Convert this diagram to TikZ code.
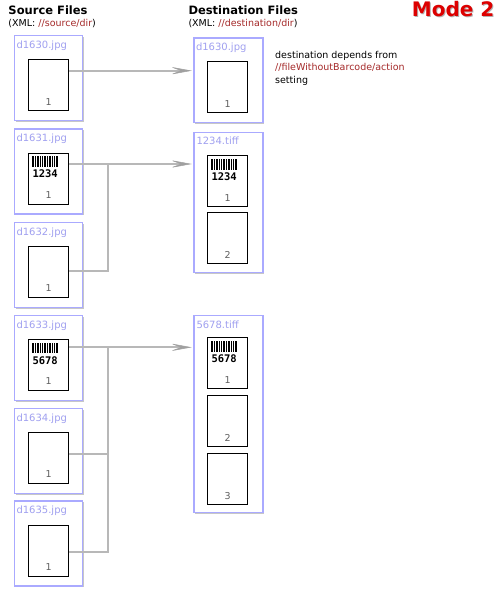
\documentclass[tikz,border=0pt]{standalone}
\usepackage{fontspec}
\setmainfont{DejaVu Sans}
\newfontfamily\monob{DejaVu Sans Mono}
\usetikzlibrary{shadows,arrows.meta,calc}
\definecolor{boxblue}{HTML}{AAAAFF}
\definecolor{lblblue}{HTML}{A0A0F0}
\definecolor{xmlred}{HTML}{A52A2A}
\definecolor{conn}{HTML}{B8B8B8}
\definecolor{tipgray}{HTML}{A0A0A0}
\definecolor{modered}{HTML}{DD0000}
\definecolor{numgray}{HTML}{606060}
\tikzset{
  filebox/.style={draw=boxblue, line width=1.2pt, fill=white, anchor=north west, inner sep=0pt,
    drop shadow={shadow xshift=1.5pt, shadow yshift=-1.5pt, fill=black, opacity=0.22}},
  srcbox/.style={filebox, minimum width=68pt, minimum height=85pt},
  dstbox/.style={filebox, minimum width=69pt},
  flabel/.style={anchor=base west, inner sep=0pt, text=lblblue, font=\fontsize{10}{12}\selectfont},
  pagebox/.style={draw=black, line width=0.8pt, fill=white, anchor=north west, inner sep=0pt,
    minimum width=40pt, minimum height=51pt},
  pnum/.style={anchor=base, inner sep=0pt, text=numgray, font=\fontsize{9.5}{11}\selectfont},
  bctext/.style={anchor=base west, inner sep=0pt, font=\monob\bfseries\fontsize{10.5}{12}\selectfont},
  connline/.style={draw=conn, line width=2pt},
  connarrow/.style={connline, -{Stealth[length=22pt,width=8pt,inset=11pt,line width=0.5pt,color=tipgray]}, shorten >=1.5pt},
  head/.style={anchor=base west, inner sep=0pt, font=\bfseries\fontsize{11.5}{13}\selectfont},
  sub/.style={anchor=base west, inner sep=0pt, font=\fontsize{9.5}{11}\selectfont},
}
\newcommand\pg[4]{%
  \node[pagebox] (#1) at (#2,#3) {};
  \node[pnum] (#1n) at ($(#1.south)+(0,-6)$) {#4};}
\newcommand\bcode[2]{%
  \begin{scope}[shift={(#1.north west)}]
    \foreach \a/\w in {0/2,3/1,5/2,8/1,10/1,12/2,15/1,17/2,20/1,22/1,24/2}
      \fill[black] (4+\a,3.7) rectangle (4+\a+\w,14.4);
  \end{scope}
  \node[bctext] (#1bc) at ($(#1.north west)+(4,25)$) {#2};}
\begin{document}
\begin{tikzpicture}[x=1pt,y=-1pt]
\useasboundingbox[fill=white] (0,0) rectangle (500,595);

% headers
\node[head] (hsrc) at (8.3,14) {Source Files};
\node[sub] (hsrcx) at (8.3,26.5) {(XML: \textcolor{xmlred}{//source/dir})};
\node[head] (hdst) at (188.3,14) {Destination Files};
\node[sub] (hdstx) at (188.3,26.5) {(XML: \textcolor{xmlred}{//destination/dir})};
\node[anchor=base west, inner sep=0pt, text=black!60, opacity=0.5, font=\bfseries\fontsize{20}{22}\selectfont] (modesh) at (412.7,17.5) {Mode 2};
\node[anchor=base west, inner sep=0pt, text=modered, font=\bfseries\fontsize{20}{22}\selectfont] (mode) at (411.7,16.7) {Mode 2};

% source boxes
\foreach \i/\t in {1/35,2/128.3,3/221.7,4/314.7,5/407.7,6/500.3}{
  \node[srcbox] (s\i) at (14,\t) {};
}
\node[flabel] (s1l) at (16.3,48.3) {d1630.jpg};
\node[flabel] (s2l) at (16.3,141.6) {d1631.jpg};
\node[flabel] (s3l) at (16.3,235.0) {d1632.jpg};
\node[flabel] (s4l) at (16.3,328.0) {d1633.jpg};
\node[flabel] (s5l) at (16.3,421.0) {d1634.jpg};
\node[flabel] (s6l) at (16.3,513.6) {d1635.jpg};
\pg{s1p}{28.3}{59.3}{1}
\pg{s2p}{28.3}{152.6}{1}
\pg{s3p}{28.3}{246.0}{1}
\pg{s4p}{28.3}{339.0}{1}
\pg{s5p}{28.3}{432.0}{1}
\pg{s6p}{28.3}{524.6}{1}
\bcode{s2p}{1234}
\bcode{s4p}{5678}

% destination boxes
\node[dstbox, minimum height=84.4pt] (d1) at (193.3,37.3) {};
\node[dstbox, minimum height=140pt] (d2) at (193.3,131.7) {};
\node[dstbox, minimum height=196.7pt] (d3) at (193.3,315) {};
\node[flabel] (d1l) at (195.8,50.3) {d1630.jpg};
\node[flabel] (d2l) at (196.3,144.2) {1234.tiff};
\node[flabel] (d3l) at (196.3,328) {5678.tiff};
\pg{d1p}{207.3}{61.3}{1}
\pg{d2p1}{207.3}{155.3}{1}
\pg{d2p2}{207.3}{212.3}{2}
\pg{d3p1}{207.3}{337.3}{1}
\pg{d3p2}{207.3}{395.3}{2}
\pg{d3p3}{207.3}{453.3}{3}
\bcode{d2p1}{1234}
\bcode{d3p1}{5678}

\node[anchor=north west, inner sep=0pt, align=left, font=\fontsize{9.5}{12.5}\selectfont] (note) at (275,51)
  {destination depends from\\\textcolor{xmlred}{//fileWithoutBarcode/action}\\setting};

% connectors
\coordinate (s1o) at ($(s1p.north east)+(0,11.4)$);
\coordinate (s2o) at ($(s2p.north east)+(0,11.4)$);
\coordinate (s4o) at ($(s4p.north east)+(0,8.3)$);
\coordinate (s3o) at ($(s3p.north east)+(0,24.7)$);
\coordinate (s5o) at ($(s5p.north east)+(0,22)$);
\coordinate (s6o) at ($(s6p.north east)+(0,27.1)$);
\coordinate (j2) at (107.7,0 |- s2o);
\coordinate (j3) at (107.7,0 |- s4o);

\draw[connline] (s3o) -| (j2);
\draw[connline] (s5o) -| (j3);
\draw[connline] (s6o) -| (j3);
\draw[connarrow] (s1o) -- (s1o -| d1.west);
\draw[connarrow] (s2o) -- (s2o -| d2.west);
\draw[connarrow] (s4o) -- (s4o -| d3.west);
\end{tikzpicture}
\end{document}
